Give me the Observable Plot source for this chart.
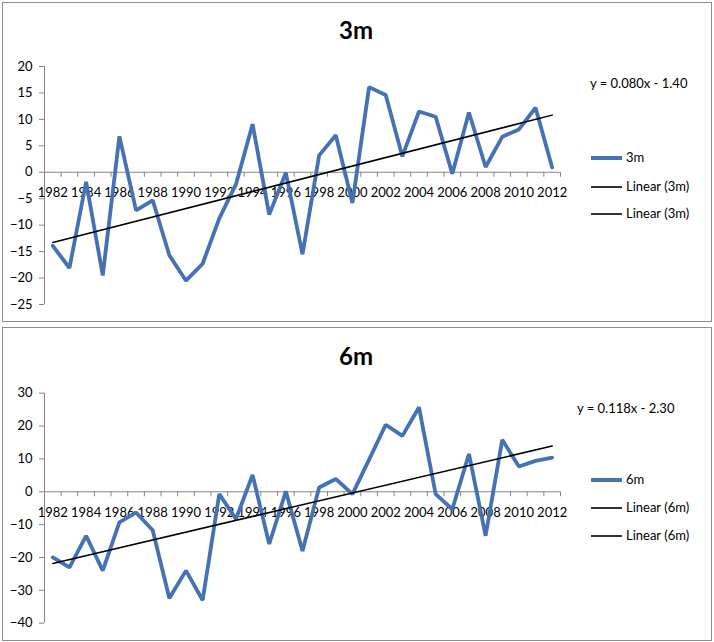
<!DOCTYPE html>
<html><head><meta charset="utf-8">
<script src="https://cdn.jsdelivr.net/npm/d3@7"></script>
<script src="https://cdn.jsdelivr.net/npm/@observablehq/plot@0.6"></script>
<style>
body{margin:0;background:#fff;font-family:Lato,sans-serif;}
#wrap{position:relative;width:714px;height:642px;overflow:hidden;background:#fff;}
.panel{position:absolute;border:1.5px solid #8c8c8c;box-sizing:border-box;}
.abs{position:absolute;white-space:nowrap;color:#000;font-family:Lato,sans-serif;}
.title{font-weight:bold;font-size:24px;line-height:24px;transform:translateX(-50%);}
.eq{font-size:13px;line-height:13px;}
.leg{font-size:13px;line-height:13px;}
.sw{position:absolute;}
#wrap svg{position:absolute;left:0;}
</style></head>
<body><div id="wrap"></div>
<script>
// ---- data ----
const years = [1982,1983,1984,1985,1986,1987,1988,1989,1990,1991,1992,1993,1994,1995,1996,1997,1998,1999,2000,2001,2002,2003,2004,2005,2006,2007,2008,2009,2010,2011,2012];
const values3m = [-13.9,-18.1,-1.8,-19.5,6.8,-7.2,-5.3,-15.7,-20.5,-17.3,-8.7,-2.3,9.1,-8.0,-0.1,-15.5,3.2,7.0,-5.8,16.1,14.6,3.0,11.5,10.5,-0.3,11.3,1.0,6.7,8.1,12.2,0.9];
const values6m = [-20.0,-23.0,-13.4,-24.0,-9.3,-6.3,-11.7,-32.4,-24.0,-33.0,-0.7,-8.3,5.1,-15.9,0.1,-18.0,1.3,3.9,-0.7,9.8,20.4,17.0,25.7,-0.7,-5.3,11.5,-13.4,15.8,7.7,9.4,10.4];
const xTickLabels = [1982,1984,1986,1988,1990,1992,1994,1996,1998,2000,2002,2004,2006,2008,2010,2012];
const yTicks3m = [20,15,10,5,0,-5,-10,-15,-20,-25];
const yTicks6m = [30,20,10,0,-10,-20,-30,-40];
const titles = ["3m","6m"];
const equations = ["y = 0.080x - 1.40","y = 0.118x - 2.30"];
const legendLabels3m = ["3m","Linear (3m)","Linear (3m)"];
const legendLabels6m = ["6m","Linear (6m)","Linear (6m)"];

const BLUE = "#4472b4";
const AXIS = "#868686";
const wrap = document.getElementById("wrap");

function addDiv(cls, text, styles){
  const d = document.createElement("div");
  d.className = cls;
  if (text != null) d.textContent = text;
  Object.assign(d.style, styles);
  wrap.appendChild(d);
  return d;
}

function chart({values, yDomain, yTicks, top, height, marginTop, marginBottom, labelDy}){
  const data = years.map((year, i) => ({year, value: values[i]}));
  const boundaries = [...years.map(y => y - 0.5), years[years.length - 1] + 0.5];
  const svg = Plot.plot({
    width: 714, height,
    marginLeft: 44, marginRight: 154, marginTop, marginBottom,
    x: {domain: [years[0] - 0.5, years[years.length - 1] + 0.5], axis: null},
    y: {domain: yDomain, axis: null},
    style: {fontFamily: "Lato, sans-serif", fontSize: "13px", color: "#000", background: "transparent", overflow: "visible"},
    marks: [
      Plot.ruleX([boundaries[0]], {y1: yDomain[0], y2: yDomain[1], stroke: AXIS}),
      Plot.axisY({ticks: yTicks, tickSize: 5, tickPadding: 7, stroke: AXIS, fill: "#000", label: null, fontSize: 13}),
      Plot.ruleY([0], {stroke: AXIS}),
      Plot.ruleX(boundaries, {x: d => d, y1: 0, y2: 0, insetBottom: -5, stroke: AXIS}),
      Plot.text(xTickLabels, {x: d => d, y: 0, dy: labelDy, text: d => String(d), fontSize: 13, fill: "#000"}),
      Plot.line(data, {x: "year", y: "value", stroke: BLUE, strokeWidth: 3.8, strokeLinejoin: "miter"}),
      Plot.linearRegressionY(data, {x: "year", y: "value", ci: 0, stroke: "#000", strokeWidth: 1.5})
    ]
  });
  svg.style.top = top + "px";
  wrap.appendChild(svg);
}

// panel borders
addDiv("panel", null, {left: "2px", top: "2px", width: "710px", height: "320px"});
addDiv("panel", null, {left: "2px", top: "327px", width: "710px", height: "314px"});

chart({values: values3m, yDomain: [-25, 20], yTicks: yTicks3m, top: 0, height: 322, marginTop: 66, marginBottom: 18, labelDy: 21});
chart({values: values6m, yDomain: [-40, 30], yTicks: yTicks6m, top: 322, height: 320, marginTop: 70.7, marginBottom: 19.3, labelDy: 20.7});

// titles
addDiv("abs title", titles[0], {left: "356px", top: "17.7px"});
addDiv("abs title", titles[1], {left: "356px", top: "343.7px"});
// equations
addDiv("abs eq", equations[0], {left: "590px", top: "77px"});
addDiv("abs eq", equations[1], {left: "577px", top: "402px"});

// legends
function legend(labels, baselines, swatchYs){
  labels.forEach((lab, i) => {
    const isSeries = i === 0;
    addDiv("sw", null, {left: "591px", width: "31px", top: Math.round(swatchYs[i] - (isSeries ? 2 : 1)) + "px",
      height: (isSeries ? 4 : 2) + "px", background: isSeries ? BLUE : "#333"});
    addDiv("abs leg", lab, {left: "626px", top: (baselines[i] - 11.5) + "px"});
  });
}
legend(legendLabels3m, [162.7, 191, 218.3], [158, 187, 213.5]);
legend(legendLabels6m, [484.5, 512.7, 540], [480, 508, 536]);
</script>
</body></html>
